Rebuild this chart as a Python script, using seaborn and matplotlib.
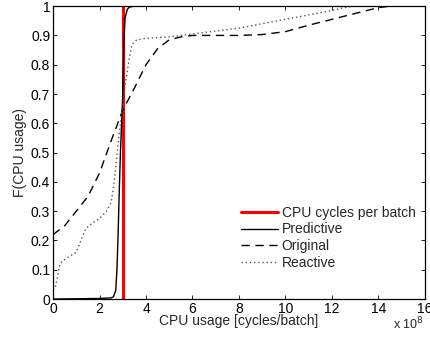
import numpy as np
import pandas as pd
import matplotlib
matplotlib.use("Agg")
import matplotlib.pyplot as plt
import seaborn as sns

# Data (CPU usage in units of 1e8 cycles/batch)
threshold_x = [3.0, 3.0]
threshold_y = [0.0, 1.0]

pred_x = [0, 1, 2, 2.5, 2.6, 2.7, 2.75, 2.8, 2.85, 2.9, 2.95, 3.0, 3.05, 3.1, 3.2, 3.3, 3.5, 16]
pred_y = [0, 0.001, 0.002, 0.004, 0.008, 0.03, 0.1, 0.22, 0.37, 0.5, 0.6, 0.7, 0.88, 0.96, 0.99, 0.997, 1.0, 1.0]

orig_x = [0, 0.5, 1.0, 1.5, 2.0, 2.5, 3.0, 3.5, 4.0, 4.5, 5.0, 5.5, 6, 7, 8, 9, 10, 11, 12, 13, 13.5, 14, 14.5, 16]
orig_y = [0.22, 0.25, 0.3, 0.35, 0.43, 0.54, 0.645, 0.72, 0.8, 0.855, 0.885, 0.895, 0.9, 0.9, 0.9, 0.903, 0.913, 0.935, 0.955, 0.975, 0.985, 0.995, 1.0, 1.0]

react_x = [0, 0.1, 0.2, 0.3, 0.4, 0.6, 0.8, 1.0, 1.2, 1.4, 1.7, 2.0, 2.3, 2.5, 2.6, 2.7, 2.8, 2.9, 3.0, 3.1, 3.2, 3.3, 3.4, 3.6, 4, 5, 6, 7, 8, 9, 10, 11, 12, 12.5, 13, 16]
react_y = [0.03, 0.04, 0.08, 0.12, 0.13, 0.14, 0.15, 0.16, 0.2, 0.24, 0.26, 0.275, 0.3, 0.33, 0.38, 0.45, 0.53, 0.6, 0.67, 0.73, 0.78, 0.83, 0.87, 0.885, 0.89, 0.895, 0.905, 0.915, 0.925, 0.94, 0.955, 0.97, 0.985, 0.995, 1.0, 1.0]

x_ticks = [0, 2, 4, 6, 8, 10, 12, 14, 16]
y_ticks = [0, 0.1, 0.2, 0.3, 0.4, 0.5, 0.6, 0.7, 0.8, 0.9, 1.0]
y_ticklabels = ["0", "0.1", "0.2", "0.3", "0.4", "0.5", "0.6", "0.7", "0.8", "0.9", "1"]

sns.set_theme(style="white")
plt.rcParams['font.family'] = ['Liberation Sans', 'DejaVu Sans']
plt.rcParams['xtick.direction'] = 'in'
plt.rcParams['ytick.direction'] = 'in'

fig = plt.figure(figsize=(4.31, 3.41), dpi=100)
ax = fig.add_axes([0.123, 0.123, 0.863, 0.859])

sns.lineplot(x=threshold_x, y=threshold_y, ax=ax, color="#ff0000", lw=2.2,
             estimator=None, sort=False, label="CPU cycles per batch")
sns.lineplot(x=pred_x, y=pred_y, ax=ax, color="black", lw=1.0,
             estimator=None, label="Predictive")
sns.lineplot(x=orig_x, y=orig_y, ax=ax, color="black", lw=1.0,
             estimator=None, label="Original", dashes=False)
ax.lines[-1].set_linestyle((0, (6, 4)))
sns.lineplot(x=react_x, y=react_y, ax=ax, color="#555555", lw=1.0,
             estimator=None, label="Reactive")
ax.lines[-1].set_linestyle((0, (1, 2)))

fs = 10
ax.set_xlim(0, 16)
ax.set_ylim(0, 1)
ax.set_xticks(x_ticks)
ax.set_xticklabels([str(t) for t in x_ticks], fontsize=fs)
ax.set_yticks(y_ticks)
ax.set_yticklabels(y_ticklabels, fontsize=fs)
ax.tick_params(axis='both', which='both', direction='in', length=3, width=0.6,
               top=True, right=True, bottom=True, left=True, pad=2, colors='black')
for s in ax.spines.values():
    s.set_color('black')
    s.set_linewidth(0.9)

ax.set_xlabel("CPU usage [cycles/batch]", fontsize=fs, labelpad=-1)
ax.set_ylabel("F(CPU usage)", fontsize=fs, labelpad=3)
fig.text(0.912, 0.025, r"x 10$^8$", fontsize=9, ha='left', va='bottom')

leg = ax.legend(loc='upper right', bbox_to_anchor=(0.99, 0.338), frameon=False,
                fontsize=fs, handlelength=2.7, handletextpad=0.25, labelspacing=0.2,
                borderaxespad=0)
leg.get_lines()[3].set_linestyle((0, (1, 2)))
leg.get_lines()[2].set_linestyle((0, (6, 4)))

fig.savefig("out.png", dpi=100)
